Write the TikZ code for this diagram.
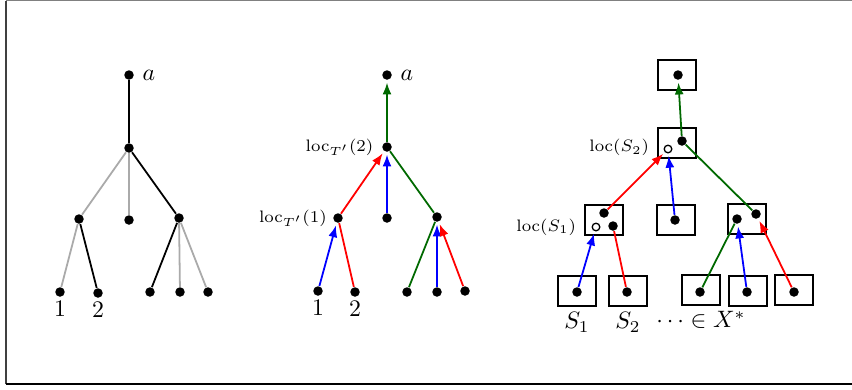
\documentclass[tikz,border=0pt]{standalone}
\usetikzlibrary{arrows.meta,positioning}
\definecolor{dkgreen}{RGB}{0,105,0}
\definecolor{ltgray}{RGB}{170,170,170}
\tikzset{
  dot/.style={circle,fill=black,inner sep=0pt,minimum size=4pt},
  odot/.style={circle,draw=black,fill=white,line width=0.55pt,inner sep=0pt,minimum size=3.2pt},
  box/.style={draw,line width=0.55pt,minimum width=16pt,minimum height=12.6pt,inner sep=0pt},
  edge/.style={line width=0.75pt},
  arr/.style={edge,-{Latex[length=5pt,width=3.8pt]},shorten >=1pt},
}
\begin{document}
\begin{tikzpicture}[x=0.0148cm,y=-0.0148cm]
  \useasboundingbox (0,0) rectangle (852,389);
  % frame
  \draw[black!75,line width=0.5pt] (6,384) -- (6,0.6);
  \draw[gray,line width=0.4pt] (6,0.6) -- (852,0.6);
  \draw[line width=0.5pt] (6,384) -- (852,384);
  % tree T
  \node[dot] (ta) at (129,75) {}; \node[right=0pt of ta] (talab) {$a$};
  \node[dot] (tn) at (129,148) {};
  \node[dot] (tl) at (79,219) {}; \node[dot] (tm) at (129,220) {};
  \node[dot] (tr) at (179,218) {};
  \node[dot] (t1) at (60,292) {}; \node[dot] (t2) at (98,293) {};
  \node[dot] (t3) at (150,292) {}; \node[dot] (t4) at (180,292) {};
  \node[dot] (t5) at (208,292) {};
  \node[below=-2pt of t1] (t1lab) {1}; \node[below=-2pt of t2] (t2lab) {2};
  \draw[edge] (tn) -- (ta);
  \draw[edge,ltgray] (tn) -- (tl); \draw[edge,ltgray] (tn) -- (tm);
  \draw[edge] (tn) -- (tr);
  \draw[edge,ltgray] (tl) -- (t1); \draw[edge] (tl) -- (t2);
  \draw[edge] (tr) -- (t3);
  \draw[edge,ltgray] (tr) -- (t4); \draw[edge,ltgray] (tr) -- (t5);
  % tree T' with loc
  \node[dot] (ua) at (387,75) {}; \node[right=0pt of ua] (ualab) {$a$};
  \node[dot] (un) at (387,147) {};
  \node[left=0pt of un,font=\scriptsize] (unlab) {$\mathrm{loc}_{T'}(2)$};
  \node[dot] (ul) at (338,218) {};
  \node[left=-1pt of ul,font=\scriptsize] (ullab) {$\mathrm{loc}_{T'}(1)$};
  \node[dot] (um) at (387,218) {}; \node[dot] (ur) at (437,217) {};
  \node[dot] (u1) at (318,291) {}; \node[dot] (u2) at (355,292) {};
  \node[dot] (u3) at (407,292) {}; \node[dot] (u4) at (437,292) {};
  \node[dot] (u5) at (465,291) {};
  \node[below=-2pt of u1] (u1lab) {1}; \node[below=-2pt of u2] (u2lab) {2};
  \draw[arr,dkgreen] (un) -- (ua);
  \draw[arr,red] (ul) -- (un); \draw[arr,blue] (um) -- (un);
  \draw[edge,dkgreen] (un) -- (ur);
  \draw[arr,blue] (u1) -- (ul); \draw[edge,red] (u2) -- (ul);
  \draw[edge,dkgreen] (u3) -- (ur);
  \draw[arr,blue] (u4) -- (ur); \draw[arr,red] (u5) -- (ur);
  % boxes over X*
  \node[box] (bt) at (677,75) {}; \node[dot] (vt) at (678,75) {};
  \node[box] (bn) at (677,143) {};
  \node[dot] (vn) at (682,141) {}; \node[odot] (on) at (668,149) {};
  \node[left=0pt of bn.west,yshift=-2pt,font=\scriptsize] (bnlab) {$\mathrm{loc}(S_2)$};
  \node[box] (bl) at (604,220) {};
  \node[dot] (vl) at (604,213) {}; \node[odot] (ol) at (596,227) {};
  \node[dot] (vl2) at (613,226) {};
  \node[left=0pt of bl.west,yshift=-3pt,font=\scriptsize] (bllab) {$\mathrm{loc}(S_1)$};
  \node[box] (bm) at (676,220) {}; \node[dot] (vm) at (675,220) {};
  \node[box] (br) at (747,219) {};
  \node[dot] (vr1) at (737,219) {}; \node[dot] (vr2) at (756,214) {};
  \node[box] (b1) at (577,291) {}; \node[dot] (v1) at (577,292) {};
  \node[box] (b2) at (628,291) {}; \node[dot] (v2) at (627,292) {};
  \node[box] (b3) at (701,290) {}; \node[dot] (v3) at (700,292) {};
  \node[box] (b4) at (748,291) {}; \node[dot] (v4) at (747,292) {};
  \node[box] (b5) at (794,290) {}; \node[dot] (v5) at (794,292) {};
  \node[below=-1pt of b1] (b1lab) {$S_1$}; \node[below=-1pt of b2] (b2lab) {$S_2$};
  \node (xlab) at (701,320) {$\cdots\in X^*$};
  \draw[arr,dkgreen] (vn) -- (vt);
  \draw[arr,red] (vl) -- (on); \draw[arr,blue] (vm) -- (on);
  \draw[edge,dkgreen] (vn) -- (vr2);
  \draw[arr,blue] (v1) -- (ol); \draw[edge,red] (v2) -- (vl2);
  \draw[edge,dkgreen] (v3) -- (vr1);
  \draw[arr,blue] (v4) -- (vr1); \draw[arr,red] (v5) -- (vr2);
\end{tikzpicture}
\end{document}
